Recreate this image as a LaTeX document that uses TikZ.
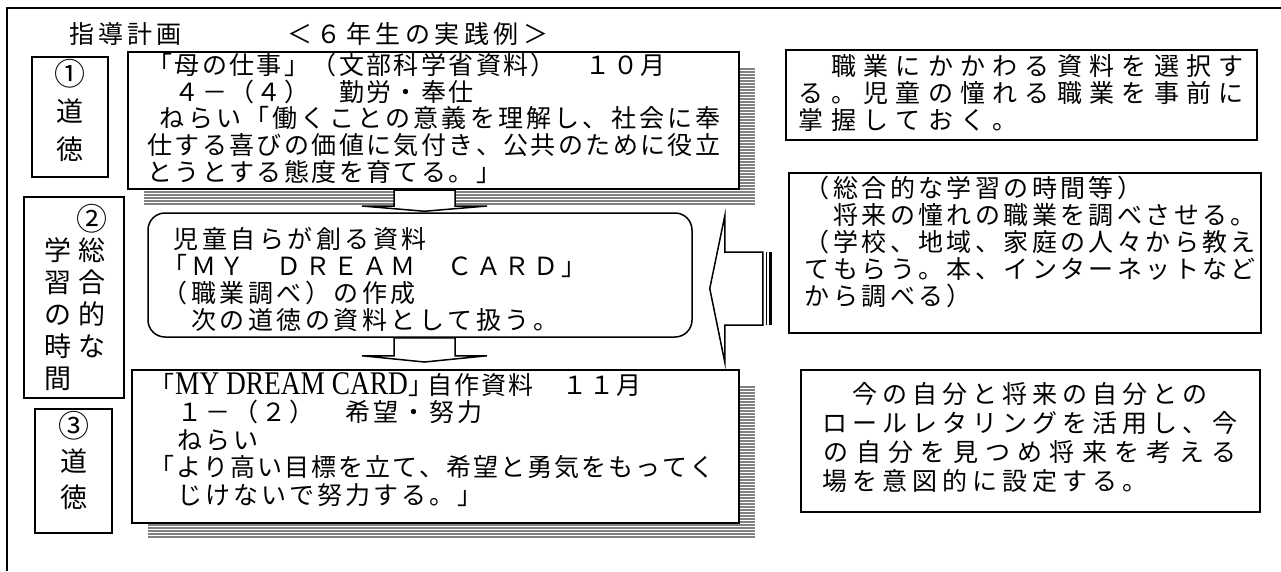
\documentclass[tikz,border=0pt]{standalone}
\usepackage{fontspec}
\setmainfont{Noto Sans CJK JP}
\newfontfamily\lat{Liberation Serif}
\usetikzlibrary{calc}
\makeatletter
\def\gl@stop{gl@stop@marker}
\def\gl@rest#1{\ifx\gl@stop#1\else\hbox to\gl@w{\hss#1\hss}\expandafter\gl@rest\fi}
\newcommand\gl[2]{\def\gl@w{#1}\gl@rest#2\gl@stop}
\makeatother
\tikzset{
  frame/.style={line width=1.5pt},
  box/.style={draw, line width=1.7pt, fill=white, inner sep=0pt, rectangle},
  mainbox/.style={box, line width=2pt},
  ln/.style={anchor=west, inner sep=0pt, text height=22pt, text depth=3pt, font=\fontsize{25}{25}\selectfont},
  tl/.style={anchor=west, inner sep=0pt, text height=22pt, text depth=3pt, font=\fontsize{25}{25}\selectfont},
  bg/.style={anchor=center, inner sep=0pt, text height=24pt, text depth=3pt, font=\fontsize{27}{27}\selectfont},
  num/.style={anchor=center, inner sep=0pt, text height=27pt, text depth=3pt, font=\fontsize{31}{31}\selectfont},
  stripe/.style={draw=black!50, line width=2pt},
  blockarrow/.style={draw, fill=white, line width=1.5pt, line join=miter},
}
\begin{document}
\begin{tikzpicture}[x=1pt,y=-1pt]
\useasboundingbox (0,0) rectangle (1281,571);
\fill[white] (0,0) rectangle (1281,571);
% outer frame
\draw[frame] (7,571) -- (7,8) -- (1281,8);

% title
\node[tl] (ti1) at (67,34) {\gl{29pt}{指導計画}};
\node[tl] (ti2) at (285,34) {\gl{29.5pt}{＜６年生の実践例＞}};

% shadows
\foreach \yy in {69,72,...,204} \draw[stripe] (144,\yy) -- (755,\yy);
\foreach \yy in {387,390,...,538} \draw[stripe] (148,\yy) -- (755,\yy);

% box 1 (dotoku)
\node[box, minimum width=76pt, minimum height=120pt] (b1) at (70,117) {};
\node[num] (b1a) at (70,73) {①};
\node[bg] (b1b) at (70,111) {道};
\node[bg] (b1c) at (70,149) {徳};

% main box 1
\node[mainbox, minimum width=611pt, minimum height=137pt] (m1) at (433.5,120.5) {};
\node[ln] (m1a) at (146,65) {\gl{27.4pt}{「母の仕事」（文部科学省資料）　１０月}};
\node[ln] (m1b) at (146,91.5) {\gl{27.4pt}{　４－（４）　勤労・奉仕}};
\node[ln] (m1c) at (158,118) {\gl{28.2pt}{ねらい「働くことの意義を理解し、社会に奉}};
\node[ln] (m1d) at (146,145) {\gl{27.4pt}{仕する喜びの価値に気付き、公共のために役立}};
\node[ln] (m1e) at (146,172) {\gl{27.4pt}{とうとする態度を育てる。」}};

% right box A
\node[box, minimum width=471pt, minimum height=90pt] (A) at (1021.5,95) {};
\node[ln] (Aa) at (795,66) {\gl{32.3pt}{　職業にかかわる資料を選択す}};
\node[ln] (Ab) at (795,93) {\gl{32.3pt}{る。児童の憧れる職業を事前に}};
\node[ln] (Ac) at (795,120) {\gl{32.3pt}{掌握しておく。}};

% right box B
\node[box, minimum width=472pt, minimum height=160pt] (B) at (1025,253) {};
\node[ln] (Ba) at (803,188) {\gl{28.4pt}{（総合的な学習の時間等）}};
\node[ln] (Bb) at (803,215) {\gl{28.4pt}{　将来の憧れの職業を調べさせる。}};
\node[ln] (Bc) at (803,242) {\gl{28.4pt}{（学校、地域、家庭の人々から教え}};
\node[ln] (Bd) at (803,269) {\gl{28.4pt}{てもらう。本、インターネットなど}};
\node[ln] (Be) at (803,296) {\gl{28.4pt}{から調べる）}};

% box 2 (sougou)
\node[box, minimum width=100pt, minimum height=201pt] (b2) at (74,297.5) {};
\node[num] (b2a) at (92,218) {②};
\node[bg] (b2b) at (58,250) {学};
\node[bg] (b2c) at (92,250) {総};
\node[bg] (b2d) at (58,282) {習};
\node[bg] (b2e) at (92,282) {合};
\node[bg] (b2f) at (58,314) {の};
\node[bg] (b2g) at (92,314) {的};
\node[bg] (b2h) at (58,346) {時};
\node[bg] (b2i) at (92,346) {な};
\node[bg] (b2j) at (58,378) {間};

% rounded box
\node[box, line width=1.5pt, rounded corners=17pt, minimum width=544pt, minimum height=124pt] (R) at (420,275) {};
\node[ln] (Ra) at (172,239) {\gl{28.5pt}{児童自らが創る資料}};
\node[ln] (Rb) at (161,266) {\gl{28.5pt}{「ＭＹ　ＤＲＥＡＭ　ＣＡＲＤ」}};
\node[ln] (Rc) at (161,293) {\gl{28.5pt}{（職業調べ）の作成}};
\node[ln] (Rd) at (161,320) {\gl{28.5pt}{　次の道徳の資料として扱う。}};

% main box 3
\node[mainbox, minimum width=607pt, minimum height=153pt] (m3) at (435.5,446.5) {};
\node[ln] (m3a) at (148,385) {\gl{27pt}{「}\scalebox{0.83}[1]{\fontsize{33}{33}\selectfont\lat MY DREAM CARD}\hbox to 18pt{」\hss}\gl{27pt}{自作資料　１１月}};
\node[ln] (m3b) at (148,412) {\gl{28pt}{　１－（２）　希望・努力}};
\node[ln] (m3c) at (148,440) {\gl{28pt}{　ねらい}};
\node[ln] (m3d) at (148,467) {\gl{27pt}{「より高い目標を立て、希望と勇気をもってく}};
\node[ln] (m3e) at (148,495) {\gl{28pt}{　じけないで努力する。」}};

% box 3 (dotoku)
\node[box, minimum width=77pt, minimum height=124pt] (b3) at (73.5,471) {};
\node[num] (b3a) at (73.5,425) {③};
\node[bg] (b3b) at (73.5,461) {道};
\node[bg] (b3c) at (73.5,497) {徳};

% right box C
\node[box, minimum width=459pt, minimum height=142pt] (C) at (1030.5,441) {};
\node[ln] (Ca) at (820,394) {\gl{30pt}{　今の自分と将来の自分との}};
\node[ln] (Cb) at (820,423) {\gl{30pt}{ロールレタリングを活用し、今}};
\node[ln] (Cc) at (820,452) {\gl{32.3pt}{の自分を見つめ将来を考える}};
\node[ln] (Cd) at (820,481) {\gl{30pt}{場を意図的に設定する。}};

% down arrow 1 : m1 -> R
\coordinate (a1) at ($(m1.south)+(-9,0)$);
\coordinate (a1t) at (a1 |- R.north);
\draw[blockarrow] ($(a1)+(-30.5,0)$) -- ($(a1)+(-30.5,16)$) -- ($(a1)+(-62.5,16)$) -- ($(a1t)+(0,-1)$)
  -- ($(a1)+(62.5,16)$) -- ($(a1)+(30.5,16)$) -- ($(a1)+(30.5,0)$) -- cycle;

% down arrow 2 : R -> m3
\coordinate (a2) at (a1 |- R.south);
\coordinate (a2t) at (a1 |- m3.north);
\draw[blockarrow] ($(a2)+(-30.5,0)$) -- ($(a2)+(-30.5,18)$) -- ($(a2)+(-62.5,18)$) -- ($(a2t)+(0,-7)$)
  -- ($(a2)+(62.5,18)$) -- ($(a2)+(30.5,18)$) -- ($(a2)+(30.5,0)$) -- cycle;

% left arrow : B -> R
\coordinate (la) at ($(R.east)+(17,13.5)$);
\draw[blockarrow] (la) -- ($(la)+(15,-72.5)$) -- ($(la)+(15,-36.5)$) -- ($(la)+(53,-36.5)$)
  -- ($(la)+(53,36.5)$) -- ($(la)+(15,36.5)$) -- ($(la)+(15,73.5)$) -- cycle;
\fill ($(la)+(56,-36.5)$) rectangle ($(la)+(57.5,36.5)$);
\fill ($(la)+(59,-36.5)$) rectangle ($(la)+(62,36.5)$);
\end{tikzpicture}
\end{document}
